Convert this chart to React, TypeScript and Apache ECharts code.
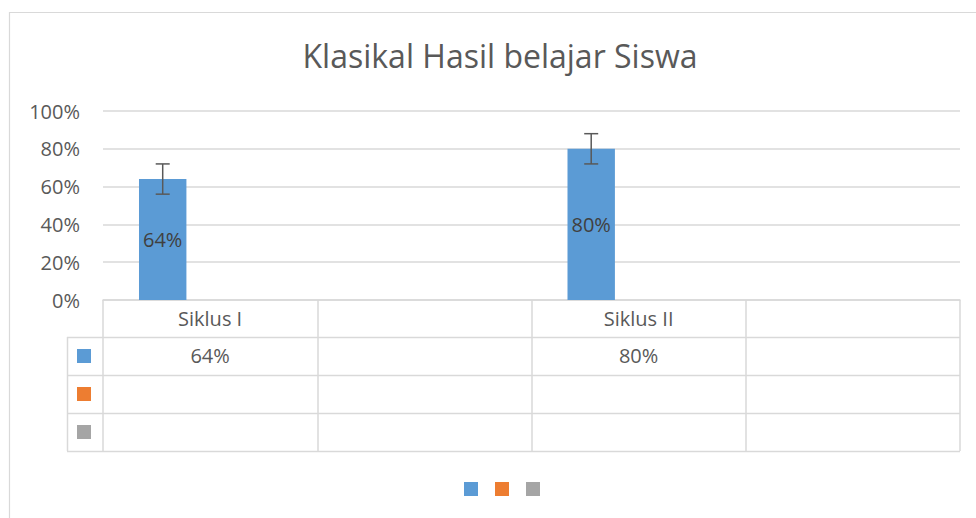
import React, { useEffect, useRef } from "react";
import * as echarts from "echarts";

const title = "Klasikal Hasil belajar Siswa";
const categories = ["Siklus I", "", "Siklus II", ""];
const seriesNames = ["Series1", "Series2", "Series3"];
const seriesColors = ["#5B9BD5", "#ED7D31", "#A5A5A5"];
const blueValues: (number | null)[] = [0.64, null, 0.8, null];
const orangeValues: (number | null)[] = [null, null, null, null];
const grayValues: (number | null)[] = [null, null, null, null];
const blueErrors: (number | null)[] = [0.08, null, 0.08, null];
const yTicks = [0, 0.2, 0.4, 0.6, 0.8, 1];

const FONT = "Open Sans";
const TXT = "#595959";
const LINE = "#d9d9d9";

const pct = (v: number | null) => (v == null ? "" : Math.round(v * 100) + "%");

export default function App() {
  const ref = useRef<HTMLDivElement>(null);
  useEffect(() => {
    if (!ref.current) return;
    const chart = echarts.init(ref.current, null, { renderer: "svg" });
    const gridLeft = 103;
    const gridRight = 960;
    const gridTop = 111;
    const gridBottom = 300;
    const rowH = 38;
    const keyLeft = 67;
    const catGap = 0.336;
    const allSeries = [blueValues, orangeValues, grayValues];

    const rowLines: any[] = [];
    for (let i = 1; i <= 4; i++) {
      const y = gridBottom + 37 + (i - 1) * rowH + 0.5;
      rowLines.push({
        type: "line",
        shape: { x1: keyLeft, y1: y, x2: gridRight, y2: y },
        style: { stroke: LINE, lineWidth: 1.5 },
        silent: true,
      });
    }
    rowLines.push({
      type: "line",
      shape: { x1: keyLeft + 0.5, y1: gridBottom + 37, x2: keyLeft + 0.5, y2: gridBottom + 37 + 3 * rowH },
      style: { stroke: LINE, lineWidth: 1.5 },
      silent: true,
    });
    seriesColors.forEach((c, i) => {
      rowLines.push({
        type: "rect",
        shape: { x: 77, y: gridBottom + 37 + i * rowH + 12, width: 14, height: 14 },
        style: { fill: c },
        silent: true,
      });
    });
    rowLines.push({
      type: "rect",
      shape: { x: 9.5, y: 12.5, width: 1100, height: 700 },
      style: { fill: "none", stroke: LINE, lineWidth: 1.2 },
      silent: true,
      z: -1,
    });

    const option: any = {
      animation: false,
      backgroundColor: "#ffffff",
      title: {
        text: title,
        left: 495,
        top: 34,
        textAlign: "center",
        textStyle: { fontFamily: FONT, fontSize: 32, fontWeight: "normal", color: TXT },
      },
      legend: {
        data: seriesNames,
        bottom: 17,
        left: 459,
        itemWidth: 14,
        itemHeight: 14,
        itemGap: 17,
        icon: "rect",
        formatter: () => "",
        selectedMode: false,
        textStyle: { fontSize: 1 },
      },
      grid: { left: gridLeft, right: 976 - gridRight, top: gridTop, bottom: 518 - gridBottom, containLabel: false },
      xAxis: [
        {
          type: "category",
          data: categories,
          position: "bottom",
          axisLine: { show: true, lineStyle: { color: LINE, width: 1.5 } },
          axisTick: { show: true, alignWithLabel: false, interval: 0, length: 37 + 3 * rowH, lineStyle: { color: LINE, width: 1.5 } },
          axisLabel: { interval: 0, margin: 8, fontFamily: FONT, fontSize: 20, color: TXT },
          splitLine: { show: false },
        },
        {
          type: "category",
          data: categories.map((_, i) => pct(blueValues[i])),
          position: "bottom",
          offset: 0,
          axisLine: { show: false },
          axisTick: { show: false },
          axisLabel: { interval: 0, margin: 45, fontFamily: FONT, fontSize: 20, color: TXT },
          splitLine: { show: false },
        },
      ],
      yAxis: {
        type: "value",
        min: 0,
        max: 1,
        interval: 0.2,
        axisLine: { show: false },
        axisTick: { show: false },
        splitLine: { lineStyle: { color: LINE, width: 1.5 } },
        axisLabel: {
          margin: 23,
          fontFamily: FONT,
          fontSize: 20,
          color: TXT,
          formatter: (v: number) => (yTicks.includes(v) ? pct(v) : ""),
        },
      },
      series: [
        ...allSeries.map((vals, si) => ({
          type: "bar",
          name: seriesNames[si],
          data: vals,
          barGap: "0%",
          barCategoryGap: catGap * 100 + "%",
          itemStyle: { color: seriesColors[si] },
          label: {
            show: si === 0,
            position: "inside",
            formatter: (p: any) => pct(p.value),
            fontFamily: FONT,
            fontSize: 20,
            color: "#404040",
          },
        })),
        {
          type: "custom",
          data: categories.map((_, i) => [i, blueValues[i], blueErrors[i]]),
          z: 10,
          renderItem: (params: any, api: any) => {
            const v = api.value(1);
            const e = api.value(2);
            if (v == null || isNaN(v) || e == null || isNaN(e)) return null;
            const catW = api.size([1, 0])[0];
            const bw = (catW * (1 - catGap)) / 3;
            const c = api.coord([api.value(0), v]);
            const x = c[0] - bw;
            const top = api.coord([api.value(0), v + e])[1];
            const bot = api.coord([api.value(0), v - e])[1];
            const st = { stroke: "#595959", lineWidth: 1.5 };
            return {
              type: "group",
              children: [
                { type: "line", shape: { x1: x, y1: top, x2: x, y2: bot }, style: st },
                { type: "line", shape: { x1: x - 7, y1: top, x2: x + 7, y2: top }, style: st },
                { type: "line", shape: { x1: x - 7, y1: bot, x2: x + 7, y2: bot }, style: st },
              ],
            };
          },
        },
      ],
      graphic: rowLines,
    };
    chart.setOption(option);
    return () => chart.dispose();
  }, []);
  return <div ref={ref} style={{ position: "fixed", left: 0, top: 0, width: 976, height: 518 }} />;
}
